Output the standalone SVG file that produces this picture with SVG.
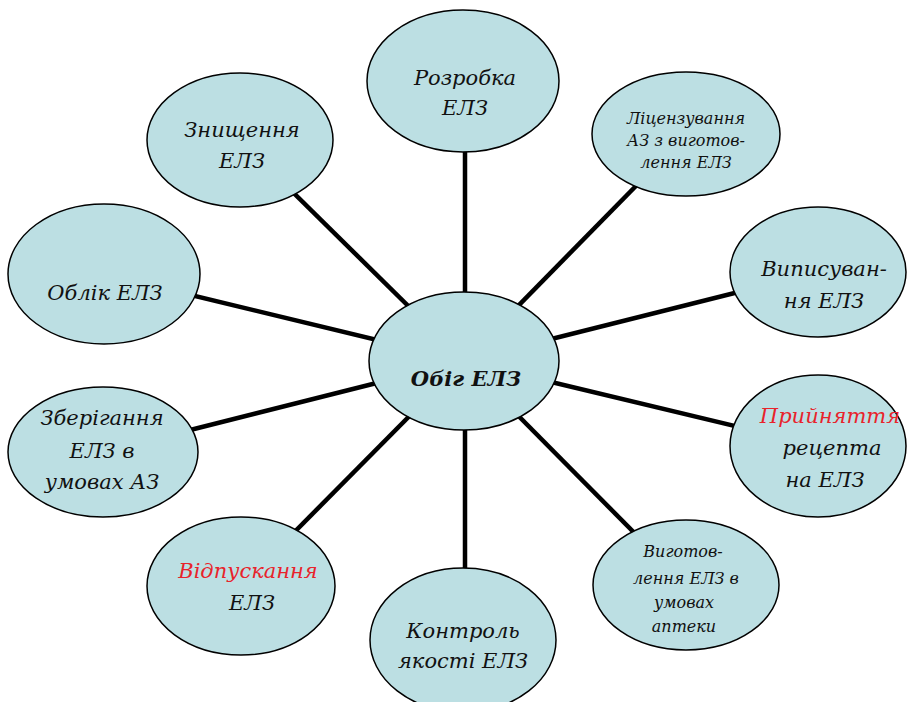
<svg xmlns="http://www.w3.org/2000/svg" width="909" height="702" viewBox="0 0 909 702">
<style>
.node ellipse{fill:#bcdfe3;stroke:#000;stroke-width:1.5}
text{font-family:"DejaVu Serif",serif;font-style:italic;font-size:21px;fill:#111;text-anchor:middle}
.s{font-size:16px}
.r{fill:#e8232b}
.b{font-weight:bold}
#connectors line{stroke:#000;stroke-width:4.5}
</style>
<rect width="909" height="702" fill="#fff"/>
<g id="connectors">
<line x1="465" y1="361" x2="465" y2="81"/>
<line x1="464" y1="361" x2="686" y2="135"/>
<line x1="464" y1="361" x2="818" y2="272"/>
<line x1="464" y1="361" x2="818" y2="446"/>
<line x1="464" y1="361" x2="686" y2="585"/>
<line x1="465" y1="361" x2="465" y2="640"/>
<line x1="464" y1="361" x2="241" y2="586"/>
<line x1="464" y1="361" x2="103" y2="452"/>
<line x1="464" y1="361" x2="104" y2="274"/>
<line x1="464" y1="361" x2="240" y2="140"/>
</g>
<g id="center" class="node"><ellipse cx="464" cy="361" rx="95" ry="69"/><text class="b" x="466" y="386">Обіг ЕЛЗ</text></g>
<g id="rozrobka" class="node"><ellipse cx="463" cy="81" rx="96" ry="71"/><text x="465" y="85">Розробка</text><text x="465" y="115">ЕЛЗ</text></g>
<g id="litsenzuvannia" class="node"><ellipse cx="686" cy="134" rx="94" ry="62"/><text class="s" x="686" y="124">Ліцензування</text><text class="s" x="686" y="146">АЗ з виготов-</text><text class="s" x="686" y="168">лення ЕЛЗ</text></g>
<g id="vypysuvannia" class="node"><ellipse cx="818" cy="272" rx="88" ry="65"/><text x="824" y="276">Виписуван-</text><text x="824" y="308">ня ЕЛЗ</text></g>
<g id="pryiniattia" class="node"><ellipse cx="818" cy="446" rx="88" ry="71"/><text class="r" x="830" y="423">Прийняття</text><text x="832" y="455">рецепта</text><text x="825" y="487">на ЕЛЗ</text></g>
<g id="vyhotovlennia" class="node"><ellipse cx="686" cy="585" rx="93" ry="65"/><text class="s" x="683" y="557">Виготов-</text><text class="s" x="686" y="584">лення ЕЛЗ в</text><text class="s" x="684" y="608">умовах</text><text class="s" x="684" y="632">аптеки</text></g>
<g id="kontrol" class="node"><ellipse cx="463" cy="640" rx="93" ry="72"/><text x="463" y="638">Контроль</text><text x="463" y="668">якості ЕЛЗ</text></g>
<g id="vidpuskannia" class="node"><ellipse cx="241" cy="586" rx="94" ry="69"/><text class="r" x="248" y="578">Відпускання</text><text x="252" y="610">ЕЛЗ</text></g>
<g id="zberihannia" class="node"><ellipse cx="103" cy="452" rx="95" ry="65"/><text x="102" y="425">Зберігання</text><text x="102" y="458">ЕЛЗ в</text><text x="102" y="489">умовах АЗ</text></g>
<g id="oblik" class="node"><ellipse cx="104" cy="274" rx="96" ry="70"/><text x="105" y="300">Облік ЕЛЗ</text></g>
<g id="znyshchennia" class="node"><ellipse cx="240" cy="140" rx="93" ry="67"/><text x="242" y="137">Знищення</text><text x="242" y="168">ЕЛЗ</text></g>
</svg>
